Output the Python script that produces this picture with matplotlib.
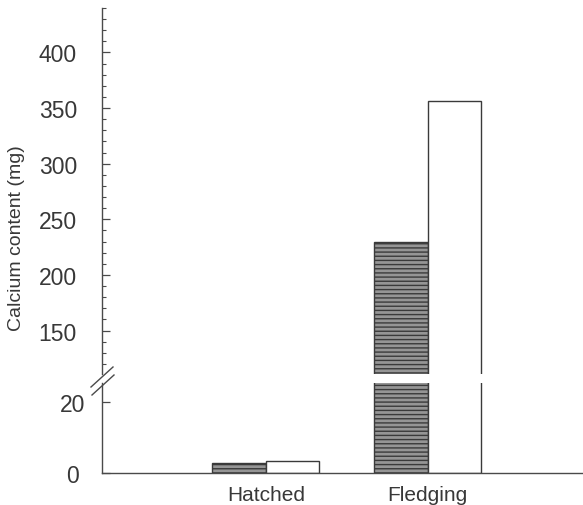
import matplotlib
matplotlib.use("Agg")
import matplotlib.pyplot as plt
import matplotlib.transforms as mtransforms
import numpy as np
from matplotlib.lines import Line2D

plt.rcParams['font.family'] = ['Liberation Sans', 'DejaVu Sans']

categories = ["Hatched", "Fledging"]
dark_values = [2.8, 230]     # hatched (dark) bars
open_values = [3.5, 356]     # open (white) bars
upper_ticks = [150, 200, 250, 300, 350, 400]
lower_ticks = [0, 20]

W, H = 583, 506
fig = plt.figure(figsize=(W / 100, H / 100), dpi=100)

axc = '#4a4a4a'
txtc = '#383838'
edge = '#3a3a3a'

left = 102 / W
right = 0.999
ax_up = fig.add_axes([left, 1 - 375 / H, right - left, (375 - 9) / H])
ax_lo = fig.add_axes([left, 1 - 474 / H, right - left, (474 - 384) / H])

x = np.arange(len(categories))
bw = 0.33
for ax in (ax_up, ax_lo):
    ax.bar(x - bw / 2, dark_values, width=bw, facecolor='#959595', edgecolor=edge,
           hatch='----', linewidth=1.0)
    ax.bar(x + bw / 2, open_values, width=bw, facecolor='white', edgecolor=edge,
           linewidth=1.0)
    ax.set_xlim(-1.012, 1.957)
    for s in ('top', 'right'):
        ax.spines[s].set_visible(False)
    ax.spines['left'].set_color(axc)
    ax.spines['left'].set_linewidth(1.0)
    ax.spines['bottom'].set_color(axc)
    ax.spines['bottom'].set_linewidth(1.0)

ax_up.set_ylim(111, 440)
ax_up.spines['bottom'].set_visible(False)
ax_up.set_xticks([])
ax_up.set_yticks(upper_ticks)
ax_up.set_yticks(np.arange(120, 441, 10), minor=True)
ax_up.tick_params(axis='y', which='major', direction='in', length=6, width=0.9,
                  color=axc, labelsize=16.5, labelcolor=txtc, pad=18)
ax_up.tick_params(axis='y', which='minor', direction='in', length=3, width=0.8, color=axc)

ax_lo.set_ylim(0, 25.5)
ax_lo.set_yticks(lower_ticks)
ax_lo.set_yticklabels([str(v) for v in lower_ticks])
ax_lo.tick_params(axis='y', which='major', direction='in', length=6, width=0.9,
                  color=axc, labelsize=16.5, labelcolor=txtc, pad=12)
ax_lo.set_xticks(x)
ax_lo.set_xticklabels(categories)
ax_lo.tick_params(axis='x', length=0, labelsize=15, labelcolor=txtc, pad=9)

# shift the "0" label slightly left as in the reference
lbl0 = ax_lo.get_yticklabels()[0]
lbl0.set_transform(lbl0.get_transform() +
                   mtransforms.ScaledTranslation(-6 / 100, 0, fig.dpi_scale_trans))

# break marks
def px(xp, yp):
    return xp / W, 1 - yp / H
for (x0, y0, x1, y1) in [(91, 388, 113, 368), (92, 396, 114, 376)]:
    a = px(x0, y0); b = px(x1, y1)
    fig.add_artist(Line2D([a[0], b[0]], [a[1], b[1]], transform=fig.transFigure,
                          color=axc, linewidth=1.0))

fig.text(17 / W, 1 - 238 / H, "Calcium content (mg)", rotation=90, ha='center',
         va='center', fontsize=14, color=txtc)

fig.savefig("out.png", dpi=100)
